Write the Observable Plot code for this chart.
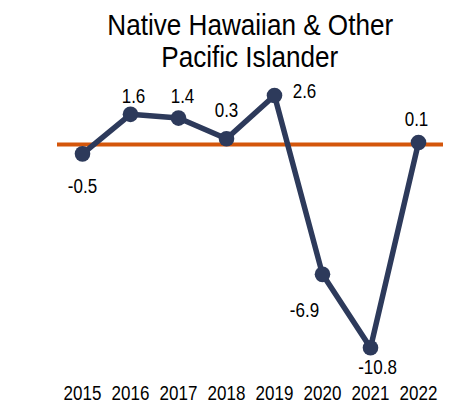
<!DOCTYPE html>
<html>
<head>
<meta charset="utf-8">
<script src="https://cdn.jsdelivr.net/npm/d3@7"></script>
<script src="https://cdn.jsdelivr.net/npm/@observablehq/plot@0.6"></script>
<style>
  html, body { margin: 0; padding: 0; background: #fff; }
  body { width: 452px; height: 404px; overflow: hidden; font-family: "Liberation Sans", Arial, sans-serif; }
  #title { box-sizing: border-box; width: 452px; height: 73px; padding-top: 9px; padding-left: 48px; text-align: center; font-size: 30px; line-height: 32px; color: #000; }
  #title span { display: inline-block; transform: scaleX(0.87); white-space: nowrap; }
</style>
</head>
<body>
<div id="title"><span>Native Hawaiian &amp; Other</span><br><span>Pacific Islander</span></div>
<div id="chart"></div>
<script>
const years = ["2015", "2016", "2017", "2018", "2019", "2020", "2021", "2022"];
const values = [-0.5, 1.6, 1.4, 0.3, 2.6, -6.9, -10.8, 0.1];
const valueLabels = ["-0.5", "1.6", "1.4", "0.3", "2.6", "-6.9", "-10.8", "0.1"];

const data = years.map((year, i) => ({year, value: values[i], label: valueLabels[i]}));

// label placement offsets (layout, not data)
const labelOffsets = [
  [0, 33], [3, -18], [4, -22], [0, -28], [30, -4], [-18, 36], [7, 20], [-2, -23]
];

const navy = "#2D3A5B";
const orange = "#D4560B";
const font = '"Liberation Sans", Arial, sans-serif';

const plot = Plot.plot({
  width: 452,
  height: 331,
  marginLeft: 57,
  marginRight: 9,
  marginTop: 22,
  marginBottom: 56.7,
  style: {fontFamily: font, background: "#fff", color: "#000"},
  x: {type: "point", domain: years, padding: 0.5},
  y: {domain: [-10.8, 2.6], axis: null},
  marks: [
    Plot.ruleY([0], {stroke: orange, strokeWidth: 4}),
    Plot.line(data, {x: "year", y: "value", stroke: navy, strokeWidth: 5.5, strokeLinejoin: "round"}),
    Plot.dot(data, {x: "year", y: "value", r: 7.8, fill: navy, stroke: "none"}),
    ...data.map((d, i) => Plot.text([d], {
      x: "year", y: "value", text: "label",
      dx: labelOffsets[i][0], dy: labelOffsets[i][1],
      fontSize: 20, fill: "#000", fontFamily: font
    })),
    Plot.axisX({tickSize: 0, tickPadding: 37.5, fontSize: 20, fontFamily: font, label: null, fill: "#000"})
  ]
});
document.getElementById("chart").appendChild(plot);
// condense text horizontally to mimic a narrow typeface
d3.select(plot).selectAll("text").each(function() {
  const w = this.getComputedTextLength();
  if (w > 0) {
    this.setAttribute("textLength", (w * 0.85).toFixed(2));
    this.setAttribute("lengthAdjust", "spacingAndGlyphs");
  }
});
</script>
</body>
</html>
